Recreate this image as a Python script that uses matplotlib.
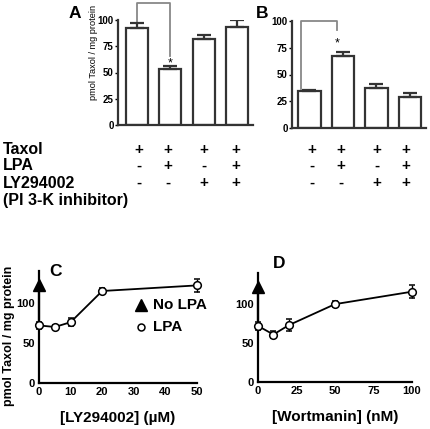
import matplotlib
matplotlib.use("Agg")
import matplotlib.pyplot as plt
import numpy as np

plt.rcParams['font.family'] = ['Liberation Sans', 'DejaVu Sans']
plt.rcParams['font.weight'] = 'bold'

# Panel A / B bar data
barsA = [92, 53, 82, 93]
errA = [5, 3, 4, 7]
barsB = [35, 67, 37, 29]
errB = [0.7, 4, 4, 4]

# Treatment table
rows = ["Taxol", "LPA", "LY294002", "(PI 3-K inhibitor)"]
taxol = ["+", "+", "+", "+"]
lpa = ["-", "+", "-", "+"]
ly = ["-", "-", "+", "+"]

# Panel C
ly_conc = [0, 5, 10, 20, 50]
ly_val = [72, 70, 76, 115, 122]
ly_err = [4, 2, 5, 4, 8]
noLPA_C = 122
# Panel D
wort_conc = [0, 10, 20, 50, 100]
wort_val = [72, 61, 73, 100, 116]
wort_err = [5, 5, 8, 4, 8]
noLPA_D = 122

W, H = 430, 429
fig = plt.figure(figsize=(W/100, H/100), dpi=100)

def ax_px(l, r, t, b):
    return fig.add_axes([l/W, 1-b/H, (r-l)/W, (b-t)/H])

edge = '#333333'

def bar_panel(ax, vals, errs, xlim, width):
    x = np.arange(len(vals))
    ax.bar(x, vals, width=width, color='white', edgecolor=edge, linewidth=1.6, zorder=2)
    ax.errorbar(x, vals, yerr=[np.zeros(len(errs)), errs], fmt='none', ecolor=edge,
                elinewidth=1.6, capsize=5, capthick=1.6, zorder=3)
    ax.set_xlim(*xlim)
    ax.set_ylim(0, 100)
    ax.set_yticks([0, 25, 50, 75, 100])
    ax.set_xticks([])
    for s in ['top', 'right']:
        ax.spines[s].set_visible(False)
    for s in ['left', 'bottom']:
        ax.spines[s].set_linewidth(1.6)
        ax.spines[s].set_color(edge)
    ax.tick_params(axis='y', length=2.5, width=1.0, pad=0.5, labelsize=7, colors='black')
    ax.patch.set_visible(False)

axA = ax_px(118, 253, 20, 125)
bar_panel(axA, barsA, errA, (-0.56, 3.48), 0.66)
fig.text(94/W, 1-52/H, "pmol Taxol / mg protein", fontsize=6.6, fontweight='normal',
         rotation=90, va='center', ha='center')
axA.plot([0, 0, 1, 1], [97, 116, 116, 66], color='#888888', lw=1.3, clip_on=False)
axA.text(1, 59, "*", ha='center', va='center', fontsize=9, fontweight='normal')

axB = ax_px(292, 426, 21, 128)
bar_panel(axB, barsB, errB, (-0.52, 3.48), 0.68)
axB.plot([-0.25, -0.25, 0.82, 0.82], [36, 100, 100, 92], color='#888888', lw=1.3, clip_on=False)
axB.text(0.82, 79, "*", ha='center', va='center', fontsize=9, fontweight='normal')

row_y = [150, 166, 183, 201]
for name, y in zip(rows, row_y):
    fig.text(3/W, 1-y/H, name, fontsize=11.5, fontweight='bold', va='center', ha='left')
xA = [139, 168, 204, 236]
xB = [312, 341, 377, 406]
for signs, y in zip([taxol, lpa, ly], row_y[:3]):
    for xs in (xA, xB):
        for s, xx in zip(signs, xs):
            fig.text(xx/W, 1-y/H, s, fontsize=11, fontweight='bold', va='center', ha='center')

fig.text(75/W, 1-14/H, "A", fontsize=12.5, fontweight='bold', va='center', ha='center')
fig.text(262/W, 1-14/H, "B", fontsize=12.5, fontweight='bold', va='center', ha='center')

def line_panel(ax, xs, ys, es, nol, xlim, xticks):
    ax.errorbar(xs, ys, yerr=es, fmt='-o', color='black', mfc='white', mec='black', mew=1.1,
                ms=5.5, lw=1.3, elinewidth=1.0, capsize=2.5, capthick=1.0, zorder=3, clip_on=False)
    ax.plot([0, 0], [ys[0], nol], color='black', lw=1.6, zorder=2, clip_on=False)
    ax.plot([0], [nol], marker='^', color='black', ms=8, zorder=4, clip_on=False)
    ax.set_xlim(*xlim)
    ax.set_ylim(0, 140)
    ax.set_yticks([0, 50, 100])
    ax.set_xticks(xticks)
    for s in ['top', 'right']:
        ax.spines[s].set_visible(False)
    for s in ['left', 'bottom']:
        ax.spines[s].set_linewidth(1.6)
    ax.tick_params(length=0, pad=3, labelsize=8)
    ax.patch.set_visible(False)

axC = ax_px(39, 197, 271, 383)
line_panel(axC, ly_conc, ly_val, ly_err, noLPA_C, (0, 50), [0, 10, 20, 30, 40, 50])
fig.text(9/W, 1-336/H, "pmol Taxol / mg protein", fontsize=9, fontweight='bold',
         rotation=90, va='center', ha='center')
axC.set_xlabel("[LY294002] (µM)", fontsize=11, fontweight='bold', labelpad=10)
axC.plot([32.3], [98], marker='^', color='black', ms=8, clip_on=False)
axC.text(36, 98, "No LPA", fontsize=11, fontweight='bold', va='center', ha='left')
axC.plot([32.3], [70], marker='o', mfc='white', mec='black', mew=1.1, ms=5, clip_on=False)
axC.text(36, 70, "LPA", fontsize=11, fontweight='bold', va='center', ha='left')

axD = ax_px(258, 412, 273, 382)
line_panel(axD, wort_conc, wort_val, wort_err, noLPA_D, (0, 100), [0, 25, 50, 75, 100])
axD.set_xlabel("[Wortmanin] (nM)", fontsize=11, fontweight='bold', labelpad=10)

fig.text(56/W, 1-271/H, "C", fontsize=12.5, fontweight='bold', va='center', ha='center')
fig.text(279/W, 1-264/H, "D", fontsize=12.5, fontweight='bold', va='center', ha='center')

fig.savefig("out.png", dpi=100)
